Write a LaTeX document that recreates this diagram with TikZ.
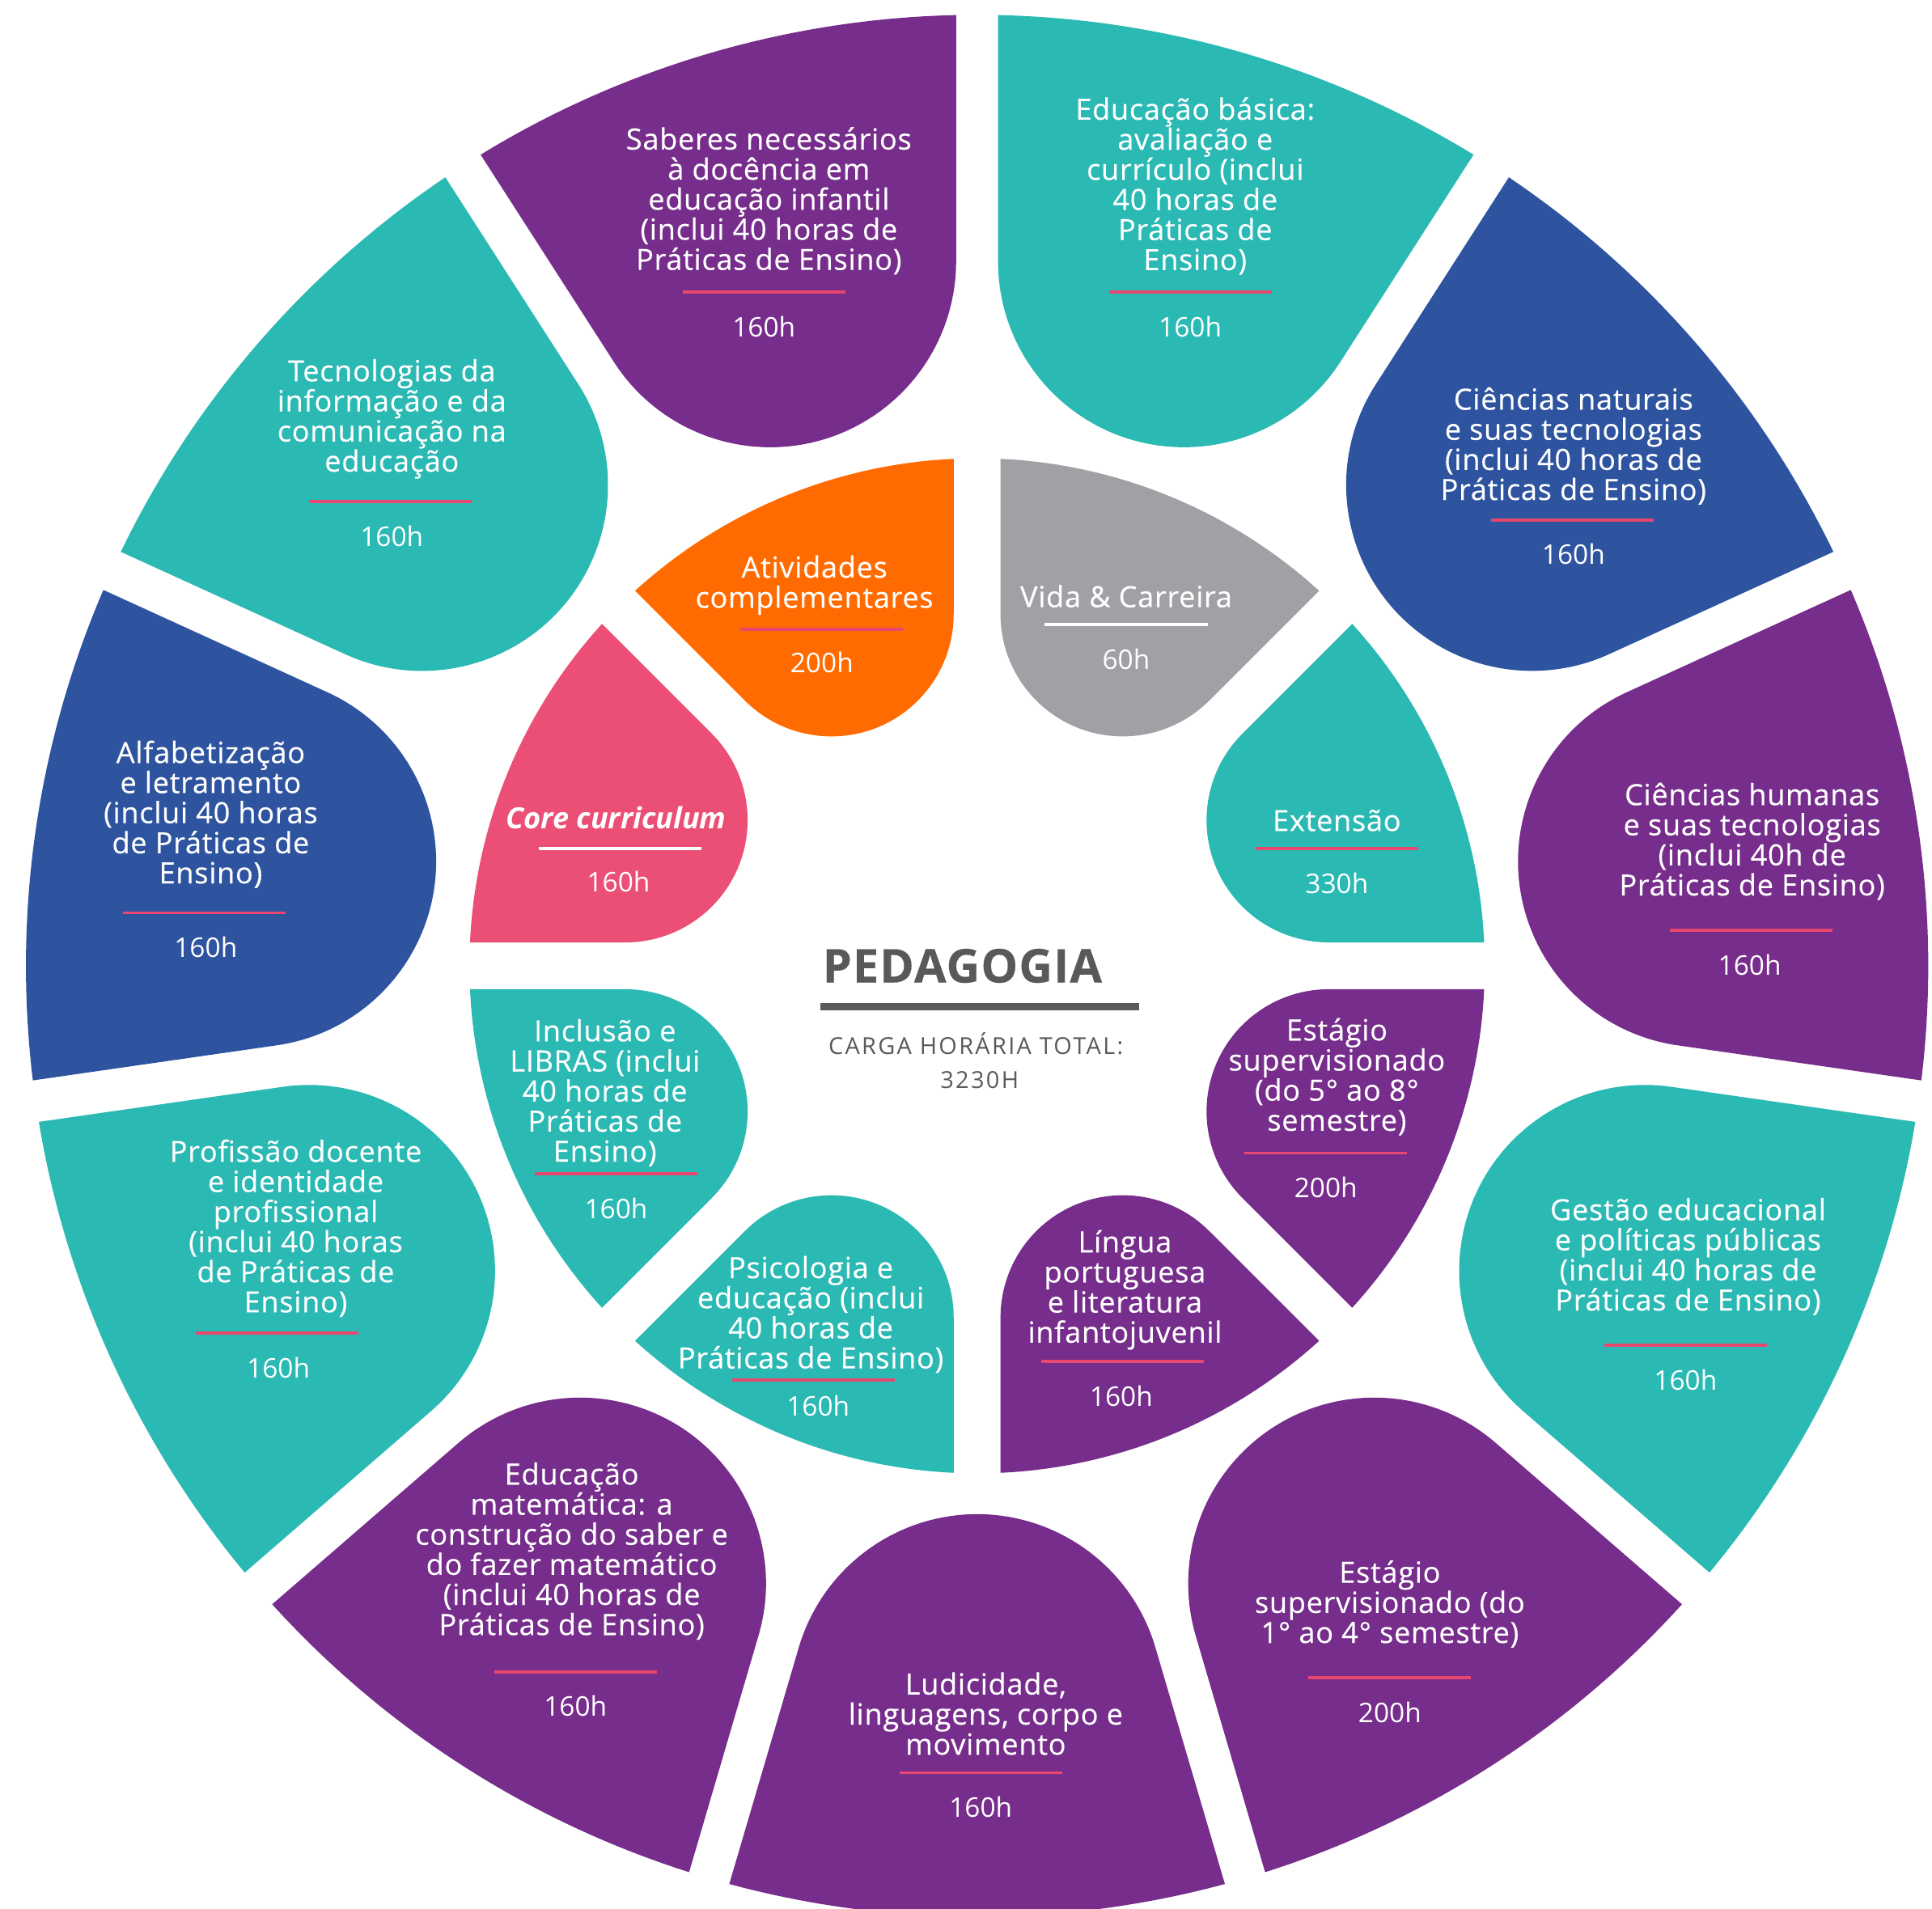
\documentclass[tikz,border=0pt]{standalone}
\usepackage{fontspec}
\setmainfont{Open Sans}
\newfontfamily\titlefont[LetterSpace=2,FakeBold=0.3]{Open Sans}
\newfontfamily\widefont[LetterSpace=8]{Open Sans}
\usepackage{tikz}
\definecolor{tealc}{HTML}{2BB9B4}
\definecolor{purplec}{HTML}{772D8B}
\definecolor{bluec}{HTML}{2E54A0}
\definecolor{pinkc}{HTML}{EC4F75}
\definecolor{orangec}{HTML}{FF6B00}
\definecolor{grayc}{HTML}{A0A1A5}
\definecolor{rulec}{HTML}{E8476F}
\definecolor{inkc}{HTML}{58595B}
\tikzstyle{title} = [text=white,align=center,inner sep=0pt,font=\titlefont\fontsize{13.5}{13.9}\selectfont]
\tikzstyle{hours} = [text=white,inner sep=0pt,font=\fontsize{12.5}{14}\selectfont]
\tikzstyle{bar} = [fill=rulec,inner sep=0pt,minimum width=26.4mm,minimum height=0.5mm]
% #1 axis, #2 half angle, #3 outer radius, #4 bulb centre, #5 gap, #6 colour
\newcommand{\leaf}[6]{%
  \pgfmathsetmacro{\lrad}{#4*sin(#2)-#5}%
  \pgfmathsetmacro{\lgap}{asin(#5/#3)}%
  \pgfmathsetmacro{\la}{#2-\lgap}%
  \pgfmathsetmacro{\lb}{90+#2}%
  \pgfmathsetmacro{\lc}{270-#2}%
  \pgfmathsetmacro{\lx}{#4-\lrad*sin(#2)}%
  \pgfmathsetmacro{\ly}{\lrad*cos(#2)}%
  \fill[#6,rotate=#1] (\la:#3) -- (\lx,\ly)
    arc[start angle=\lb,end angle=\lc,radius=\lrad] -- (-\la:#3)
    arc[start angle=-\la,end angle=\la,radius=#3] -- cycle;
}

\begin{document}
\begin{tikzpicture}[x=0.2mm,y=0.2mm]
    \useasboundingbox (-793,-765) rectangle (775,784);

    \foreach \c [count=\k from 0] in {tealc,bluec,purplec,tealc,purplec,purplec,purplec,tealc,bluec,tealc,purplec}
      {\pgfmathsetmacro{\ang}{90-(\k+0.5)*360/11}
       \leaf{\ang}{16.3636}{772}{596}{17}{\c}}
    \foreach \c [count=\k from 0] in {grayc,tealc,purplec,purplec,tealc,tealc,pinkc,orangec}
      {\pgfmathsetmacro{\ang}{67.5-45*\k}
       \leaf{\ang}{22.5}{412}{309}{19}{\c}}

    \node[title] (edb) at (177,633) {Educação básica:\\avaliação e\\currículo (inclui\\40 horas de\\Práticas de\\Ensino)};
    \node[bar] (edbr) at (173,547) {};
    \node[hours] (edbh) at (173,519) {160h};

    \node[title] (cna) at (484,422) {Ciências naturais\\e suas tecnologias\\(inclui 40 horas de\\Práticas de Ensino)};
    \node[bar] (cnar) at (483,362) {};
    \node[hours] (cnah) at (484,334) {160h};

    \node[title] (chu) at (629,101) {Ciências humanas\\e suas tecnologias\\(inclui 40h de\\Práticas de Ensino)};
    \node[bar] (chur) at (628,29) {};
    \node[hours] (chuh) at (627,1) {160h};

    \node[title] (gep) at (577,-236) {Gestão educacional\\e políticas públicas\\(inclui 40 horas de\\Práticas de Ensino)};
    \node[bar] (gepr) at (575,-308) {};
    \node[hours] (geph) at (575,-336) {160h};

    \node[title] (es1) at (335,-518) {Estágio\\supervisionado (do\\1° ao 4° semestre)};
    \node[bar] (es1r) at (335,-578) {};
    \node[hours] (es1h) at (335,-606) {200h};

    \node[title] (lud) at (7,-607) {Ludicidade,\\linguagens, corpo e\\movimento};
    \node[bar] (ludr) at (3,-655) {};
    \node[hours] (ludh) at (3,-683) {160h};

    \node[title] (edm) at (-329,-475) {Educação\\matemática: a\\construção do saber e\\do fazer matemático\\(inclui 40 horas de\\Práticas de Ensino)};
    \node[bar] (edmr) at (-326,-573) {};
    \node[hours] (edmh) at (-326,-601) {160h};

    \node[title] (pro) at (-553,-213) {Profissão docente\\e identidade\\profissional\\(inclui 40 horas\\de Práticas de\\Ensino)};
    \node[bar] (pror) at (-568,-298) {};
    \node[hours] (proh) at (-567,-326) {160h};

    \node[title] (alf) at (-622,123) {Alfabetização\\e letramento\\(inclui 40 horas\\de Práticas de\\Ensino)};
    \node[bar] (alfr) at (-627,43) {};
    \node[hours] (alfh) at (-626,15) {160h};

    \node[title] (tic) at (-475,444) {Tecnologias da\\informação e da\\comunicação na\\educação};
    \node[bar] (ticr) at (-476,377) {};
    \node[hours] (tich) at (-475,349) {160h};

    \node[title] (sab) at (-169,621) {Saberes necessários\\à docência em\\educação infantil\\(inclui 40 horas de\\Práticas de Ensino)};
    \node[bar] (sabr) at (-173,547) {};
    \node[hours] (sabh) at (-173,519) {160h};

    \node[title] (vid) at (121,300) {Vida \& Carreira};
    \node[bar,fill=white] (vidr) at (121,277) {};
    \node[hours] (vidh) at (121,249) {60h};

    \node[title] (ext) at (292,118) {Extensão};
    \node[bar] (extr) at (292,95) {};
    \node[hours] (exth) at (292,67) {330h};

    \node[title] (es5) at (292,-90) {Estágio\\supervisionado\\(do 5° ao 8°\\semestre)};
    \node[bar] (es5r) at (283,-152) {};
    \node[hours] (es5h) at (283,-180) {200h};

    \node[title] (lin) at (120,-263) {Língua\\portuguesa\\e literatura\\infantojuvenil};
    \node[bar] (linr) at (118,-321) {};
    \node[hours] (linh) at (117,-349) {160h};

    \node[title] (psi) at (-135,-283) {Psicologia e\\educação (inclui\\40 horas de\\Práticas de Ensino)};
    \node[bar] (psir) at (-133,-336) {};
    \node[hours] (psih) at (-129,-357) {160h};

    \node[title] (inc) at (-302,-103) {Inclusão e\\LIBRAS (inclui\\40 horas de\\Práticas de\\Ensino)};
    \node[bar] (incr) at (-293,-169) {};
    \node[hours] (inch) at (-293,-197) {160h};

    \node[title,font=\fontsize{13.5}{13.9}\selectfont\bfseries\itshape] (cor) at (-293,120) {Core curriculum};
    \node[bar,fill=white] (corr) at (-290,95) {};
    \node[hours] (corh) at (-291,68) {160h};

    \node[title] (atv) at (-132,309) {Atividades\\complementares};
    \node[bar] (atvr) at (-126,273) {};
    \node[hours] (atvh) at (-126,246) {200h};

    \node[text=inkc,inner sep=0pt,font=\titlefont\fontsize{21.5}{25}\selectfont\bfseries] (ped) at (-12,0) {PEDAGOGIA};
    \node[fill=inkc,inner sep=0pt,minimum width=51.8mm,minimum height=1.2mm] (pedr) at (2,-33) {};
    \node[text=inkc,inner sep=0pt,font=\widefont\fontsize{10.8}{13}\selectfont] (cht) at (-1,-63) {CARGA HORÁRIA TOTAL:};
    \node[text=inkc,inner sep=0pt,font=\widefont\fontsize{10.8}{13}\selectfont] (tot) at (2,-93) {3230H};

\end{tikzpicture}
\end{document}
